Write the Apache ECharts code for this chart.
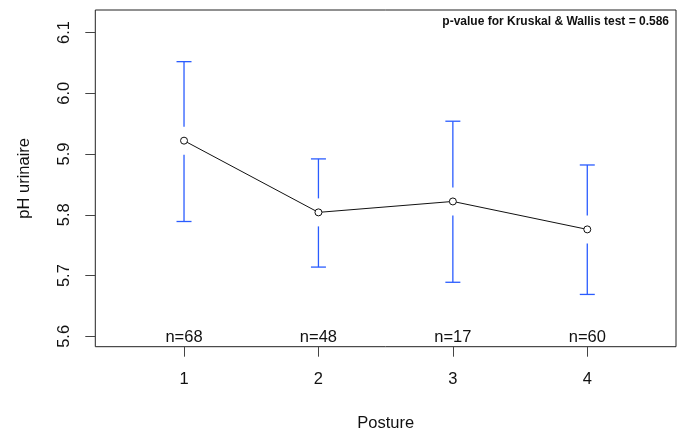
<!DOCTYPE html>
<html>
<head>
<meta charset="utf-8">
<script src="https://cdn.jsdelivr.net/npm/echarts@6/dist/echarts.min.js"></script>
<style>
html,body{margin:0;padding:0;background:#fff;}
#chart{width:688px;height:437px;}
</style>
</head>
<body>
<div id="chart"></div>
<script>
// ---- data ----
const categories = [1, 2, 3, 4];
const means = [5.922, 5.804, 5.822, 5.776];
const upper = [6.052, 5.892, 5.954, 5.882];
const lower = [5.789, 5.714, 5.689, 5.669];
const counts = [68, 48, 17, 60];
const yTicks = [5.6, 5.7, 5.8, 5.9, 6.0, 6.1];
const xTicks = [1, 2, 3, 4];
const pValueText = 'p-value for Kruskal & Wallis test = 0.586';
const xName = 'Posture';
const yName = 'pH urinaire';

const Y_MIN = 5.583, Y_MAX = 6.137;
const X_MIN = 0.34, X_MAX = 4.66;
const FONT = 'Liberation Sans, Arial, sans-serif';
const BLUE = '#2a5cff';

const chart = echarts.init(document.getElementById('chart'), null, {renderer: 'canvas'});

const barData = categories.map((c, i) => [c, means[i], upper[i], lower[i]]);
const nData = categories.map((c, i) => [c, Y_MIN, counts[i]]);
const meanData = categories.map((c, i) => [c, means[i]]);

const option = {
  animation: false,
  backgroundColor: '#fff',
  grid: {
    left: 95.3, right: 688 - 676, top: 10, bottom: 437 - 346.7,
    show: true, borderColor: '#222', borderWidth: 1, backgroundColor: 'transparent',
    containLabel: false, outerBoundsMode: 'none'
  },
  xAxis: {
    type: 'value', min: X_MIN, max: X_MAX,
    name: xName, nameLocation: 'middle', nameGap: 68,
    nameTextStyle: {fontFamily: FONT, fontSize: 16.5, color: '#111'},
    axisLine: {show: false},
    splitLine: {show: false},
    axisTick: {show: true, length: 10, lineStyle: {color: '#444', width: 1}, customValues: xTicks},
    axisLabel: {show: true, margin: 24, fontFamily: FONT, fontSize: 16.5, color: '#111', customValues: xTicks,
      formatter: v => String(v)}
  },
  yAxis: {
    type: 'value', min: Y_MIN, max: Y_MAX,
    name: yName, nameLocation: 'middle', nameGap: 62, nameRotate: 90,
    nameTextStyle: {fontFamily: FONT, fontSize: 16.5, color: '#111'},
    axisLine: {show: false},
    splitLine: {show: false},
    axisTick: {show: true, length: 10, lineStyle: {color: '#444', width: 1}, customValues: yTicks},
    axisLabel: {show: true, rotate: 90, margin: 22, fontFamily: FONT, fontSize: 16.5, color: '#111',
      customValues: yTicks, formatter: v => Number(v).toFixed(1)}
  },
  series: [
    {
      type: 'custom',
      data: barData,
      z: 3,
      renderItem: function (params, api) {
        const x = api.value(0);
        const pm = api.coord([x, api.value(1)]);
        const pu = api.coord([x, api.value(2)]);
        const pl = api.coord([x, api.value(3)]);
        const gap = 14, cap = 7.5;
        const st = {stroke: BLUE, lineWidth: 1.3};
        const children = [];
        if (pm[1] - gap > pu[1]) children.push({type: 'line', shape: {x1: pu[0], y1: pu[1], x2: pm[0], y2: pm[1] - gap}, style: st});
        if (pm[1] + gap < pl[1]) children.push({type: 'line', shape: {x1: pm[0], y1: pm[1] + gap, x2: pl[0], y2: pl[1]}, style: st});
        children.push({type: 'line', shape: {x1: pu[0] - cap, y1: pu[1], x2: pu[0] + cap, y2: pu[1]}, style: st});
        children.push({type: 'line', shape: {x1: pl[0] - cap, y1: pl[1], x2: pl[0] + cap, y2: pl[1]}, style: st});
        return {type: 'group', children: children};
      }
    },
    {
      type: 'line',
      data: meanData,
      z: 4,
      symbol: 'circle',
      symbolSize: 7,
      itemStyle: {color: '#fff', borderColor: '#111', borderWidth: 1},
      lineStyle: {color: '#111', width: 1}
    },
    {
      type: 'custom',
      data: nData,
      z: 5,
      renderItem: function (params, api) {
        const p = api.coord([api.value(0), api.value(1)]);
        return {
          type: 'text',
          x: p[0], y: p[1] - 9.4,
          style: {text: 'n=' + api.value(2), textAlign: 'center', textVerticalAlign: 'middle',
            font: '16.5px ' + FONT, fill: '#111'}
        };
      }
    }
  ],
  graphic: [
    {
      type: 'text', x: 669, y: 22,
      style: {text: pValueText, textAlign: 'right', textVerticalAlign: 'middle',
        font: 'bold 12px ' + FONT, fill: '#111'}
    }
  ]
};
chart.setOption(option);
</script>
</body>
</html>
